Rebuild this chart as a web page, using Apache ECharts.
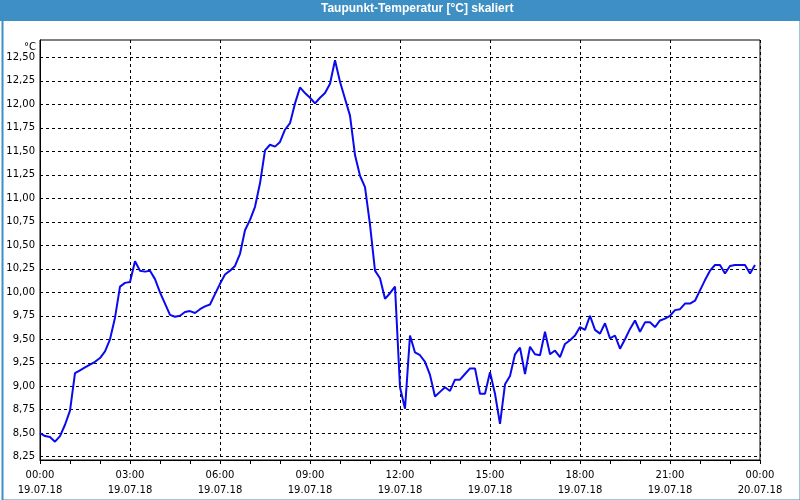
<!DOCTYPE html>
<html>
<head>
<meta charset="utf-8">
<script src="https://cdn.jsdelivr.net/npm/echarts@6/dist/echarts.min.js"></script>
<style>
html,body{margin:0;padding:0;background:#fff;}
#chart{width:800px;height:500px;}
</style>
</head>
<body>
<div id="chart"></div>
<script>
// --- data ---
var chartTitle = 'Taupunkt-Temperatur [°C] skaliert';
var unitLabel = '°C';
var startDay = 19;           // 19.07.18
var stepMinutes = 10;        // one reading every 10 minutes
var yTicks = [8.25, 8.5, 8.75, 9.0, 9.25, 9.5, 9.75, 10.0, 10.25, 10.5, 10.75, 11.0, 11.25, 11.5, 11.75, 12.0, 12.25, 12.5];
var dewPoint = [
  8.50, 8.47, 8.46, 8.41, 8.47, 8.59, 8.74, 9.14, 9.17, 9.20,
  9.23, 9.26, 9.30, 9.37, 9.50, 9.73, 10.06, 10.10, 10.11, 10.33,
  10.23, 10.22, 10.23, 10.14, 10.00, 9.88, 9.76, 9.74, 9.75, 9.79,
  9.80, 9.78, 9.82, 9.85, 9.87, 9.98, 10.09, 10.19, 10.23, 10.28,
  10.41, 10.66, 10.77, 10.91, 11.16, 11.51, 11.57, 11.55, 11.60, 11.73,
  11.80, 12.01, 12.18, 12.12, 12.07, 12.01, 12.07, 12.12, 12.22, 12.47,
  12.24, 12.06, 11.88, 11.46, 11.24, 11.12, 10.72, 10.23, 10.15, 9.93,
  9.99, 10.06, 8.99, 8.76, 9.54, 9.36, 9.33, 9.26, 9.12, 8.89,
  8.94, 8.99, 8.95, 9.07, 9.07, 9.13, 9.19, 9.19, 8.92, 8.92,
  9.15, 8.92, 8.60, 9.02, 9.11, 9.34, 9.41, 9.13, 9.42, 9.34,
  9.33, 9.58, 9.34, 9.38, 9.31, 9.45, 9.49, 9.54, 9.63, 9.60,
  9.75, 9.60, 9.56, 9.67, 9.51, 9.54, 9.40, 9.50, 9.61, 9.70,
  9.58, 9.68, 9.68, 9.63, 9.70, 9.72, 9.75, 9.81, 9.82, 9.88,
  9.88, 9.91, 10.02, 10.13, 10.23, 10.29, 10.29, 10.20, 10.28, 10.29,
  10.29, 10.29, 10.20, 10.29
];

var seriesData = dewPoint.map(function (v, i) { return [i * stepMinutes, v]; });

function pad(n) { return (n < 10 ? '0' : '') + n; }

var chart = echarts.init(document.getElementById('chart'), null, {renderer: 'canvas'});
var FONT = 'DejaVu Sans';
chart.setOption({
  animation: false,
  backgroundColor: '#ffffff',
  graphic: [
    {type: 'rect', left: 0, top: 0, shape: {x: 0, y: 0, width: 800, height: 21}, style: {fill: '#3d8fc4'}, z: 0},
    {type: 'rect', left: 0, top: 0, shape: {x: 1, y: 1, width: 798, height: 498}, style: {fill: null, stroke: '#3d8fc4', lineWidth: 2}, z: 0, silent: true},
    {type: 'text', left: 321, top: 3, style: {text: chartTitle, fill: '#ffffff', font: 'bold 12px "Liberation Sans"'}, z: 1}
  ],
  grid: {left: 40, right: 40, top: 40, bottom: 40, show: true, borderColor: '#000', borderWidth: 1, backgroundColor: '#fff'},
  xAxis: {
    type: 'value',
    min: 0,
    max: 1440,
    interval: 180,
    axisLine: {show: true, lineStyle: {color: '#000', width: 1}},
    axisTick: {show: true, length: 4, lineStyle: {color: '#000'}},
    minorTick: {show: true, splitNumber: 3, length: 4, lineStyle: {color: '#000'}},
    splitLine: {show: true, lineStyle: {color: '#000', type: [3, 3], width: 1}},
    axisLabel: {
      margin: 8,
      color: '#000',
      fontFamily: FONT,
      fontSize: 10,
      lineHeight: 15,
      formatter: function (v) {
        var h = Math.floor(v / 60) % 24;
        var d = startDay + Math.floor(v / 1440);
        return pad(h) + ':00\n' + pad(d) + '.07.18';
      }
    }
  },
  yAxis: {
    type: 'value',
    min: 8.215,
    max: 12.685,
    name: unitLabel,
    nameLocation: 'end',
    nameGap: -12,
    nameTextStyle: {color: '#000', fontFamily: FONT, fontSize: 10, align: 'right', padding: [0, 4, 0, 0]},
    axisLine: {show: true, lineStyle: {color: '#000', width: 1}},
    axisTick: {show: false, customValues: yTicks},
    splitLine: {show: true, lineStyle: {color: '#000', type: [3, 3], width: 1}},
    axisLabel: {
      customValues: yTicks,
      margin: 5,
      color: '#000',
      fontFamily: FONT,
      fontSize: 10,
      formatter: function (v) { return v.toFixed(2).replace('.', ','); }
    }
  },
  series: [{
    type: 'line',
    data: seriesData,
    showSymbol: false,
    symbol: 'none',
    lineStyle: {color: '#0a0af0', width: 2},
    itemStyle: {color: '#0a0af0'}
  }]
});
</script>
</body>
</html>
